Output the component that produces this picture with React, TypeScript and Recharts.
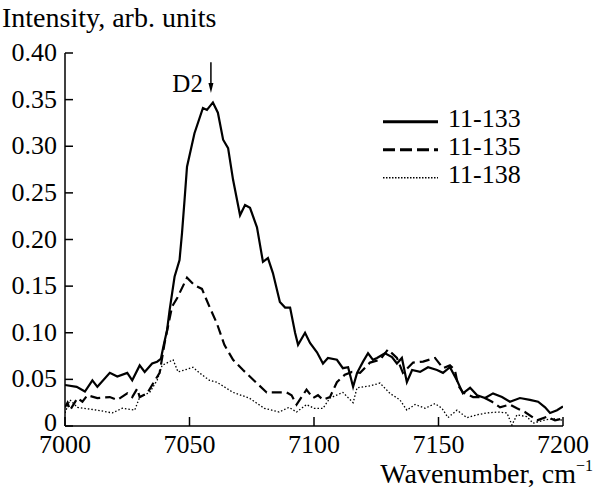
import { LineChart, Line, XAxis, YAxis, ReferenceLine } from "recharts";

// spectra: [wavenumber, intensity]
const s133: [number, number][] = [
  [7000, 0.044], [7004.7, 0.042], [7008, 0.037], [7011, 0.049], [7013, 0.042],
  [7018, 0.057], [7021, 0.053], [7025, 0.057], [7027, 0.049], [7030, 0.065],
  [7032, 0.058], [7035, 0.067], [7037, 0.069], [7038.5, 0.072], [7039.5, 0.085],
  [7041, 0.103], [7042, 0.124], [7044, 0.16], [7046, 0.178], [7047, 0.207],
  [7048, 0.242], [7049, 0.278], [7052, 0.314], [7055.4, 0.341], [7057, 0.339],
  [7059.4, 0.347], [7061.4, 0.336], [7063.5, 0.307], [7065.5, 0.298], [7067.5, 0.264],
  [7070.3, 0.226], [7072.3, 0.237], [7074.3, 0.234], [7077.1, 0.213], [7079.5, 0.176],
  [7081.5, 0.18], [7083.5, 0.164], [7086.3, 0.133], [7088.4, 0.127], [7090.4, 0.127],
  [7092.4, 0.1], [7093.6, 0.087], [7096.4, 0.1], [7098.4, 0.089], [7101.2, 0.079],
  [7103.6, 0.067], [7105.6, 0.073], [7109.2, 0.071], [7111.6, 0.062], [7113.7, 0.063],
  [7115.7, 0.042], [7117.3, 0.057], [7119.7, 0.069], [7121.7, 0.078], [7123.7, 0.071],
  [7125.3, 0.073], [7128.5, 0.078], [7131.3, 0.074], [7133.3, 0.067], [7135.3, 0.073],
  [7137.3, 0.047], [7139.4, 0.06], [7142.6, 0.058], [7145.8, 0.063], [7149.4, 0.06],
  [7151.8, 0.057], [7154.6, 0.063], [7157.4, 0.049], [7159.8, 0.035], [7162.7, 0.041],
  [7165.5, 0.033], [7168.7, 0.03], [7171.9, 0.035], [7175.5, 0.031], [7178.7, 0.026],
  [7182.7, 0.03], [7186.7, 0.028], [7190, 0.026], [7192.8, 0.02], [7194.8, 0.014],
  [7197.6, 0.017], [7200, 0.021],
];

const s135: [number, number][] = [
  [7000, 0.02], [7001, 0.025], [7002, 0.017], [7005, 0.03], [7007, 0.026],
  [7009, 0.033], [7013, 0.03], [7018, 0.031], [7021, 0.028], [7025, 0.035],
  [7027, 0.031], [7029, 0.04], [7030, 0.031], [7033, 0.035], [7035, 0.044],
  [7038, 0.057], [7040, 0.089], [7043, 0.128], [7045, 0.137], [7049, 0.159],
  [7052, 0.151], [7055, 0.147], [7058, 0.128], [7061, 0.11], [7064, 0.087],
  [7067.5, 0.071], [7071.5, 0.06], [7077, 0.046], [7081, 0.036], [7085, 0.036],
  [7089, 0.036], [7091, 0.033], [7093, 0.023], [7097, 0.039], [7099.6, 0.03],
  [7101.6, 0.033], [7103.6, 0.028], [7106.4, 0.031], [7109.2, 0.047], [7112.4, 0.055],
  [7115.3, 0.058], [7118.5, 0.057], [7122.5, 0.068], [7126.5, 0.071], [7129.7, 0.082],
  [7133.3, 0.073], [7135.7, 0.057], [7139.8, 0.068], [7143.8, 0.069], [7148.6, 0.073],
  [7151.8, 0.062], [7154.6, 0.065], [7156.6, 0.06], [7157.8, 0.044], [7159.8, 0.036],
  [7163.9, 0.031], [7167.9, 0.031], [7171.5, 0.026], [7174.7, 0.02], [7178.7, 0.023],
  [7181.5, 0.019], [7184.7, 0.015], [7189.6, 0.006], [7193.6, 0.01], [7196.8, 0.006],
  [7200, 0.008],
];

const s138: [number, number][] = [
  [7000, 0.014], [7002, 0.028], [7005, 0.02], [7013, 0.017], [7019, 0.014],
  [7023, 0.019], [7028, 0.017], [7030, 0.031], [7034, 0.036], [7037, 0.049],
  [7039, 0.065], [7043.4, 0.071], [7045.4, 0.058], [7048, 0.06], [7051.4, 0.063],
  [7054, 0.057], [7058, 0.049], [7061, 0.047], [7067.5, 0.036], [7074, 0.03],
  [7080, 0.019], [7086, 0.015], [7090, 0.02], [7093, 0.015], [7097, 0.023],
  [7100, 0.019], [7103.6, 0.019], [7106.4, 0.03], [7111.6, 0.036], [7115.7, 0.025],
  [7117.3, 0.041], [7122.5, 0.043], [7126.5, 0.046], [7130.5, 0.035], [7134.5, 0.028],
  [7137.3, 0.017], [7140.6, 0.023], [7144.6, 0.019], [7148.6, 0.024], [7151.4, 0.019],
  [7153.8, 0.009], [7157.4, 0.017], [7161.4, 0.009], [7165.5, 0.012], [7169.5, 0.014],
  [7173.9, 0.015], [7177.5, 0.014], [7179.5, 0.001], [7181.5, 0.012], [7185.5, 0.01],
  [7188, 0.003], [7192, 0.006], [7196, 0.008], [7200, 0.006],
];

const xTicks = [7000, 7050, 7100, 7150, 7200];
const yTicks = [0, 0.05, 0.1, 0.15, 0.2, 0.25, 0.3, 0.35, 0.4];

const txt = { fontFamily: "'Liberation Serif', 'DejaVu Serif', serif" };

const toPoints = (s: [number, number][]) => s.map(([x, y]) => ({ x, y }));

function YTick({ x, y, payload }: any) {
  const v = payload.value as number;
  // the "0" label sits a little higher so it clears the x labels
  const dy = v === 0 ? 5 : 8;
  return (
    <g>
      <line x1={x} x2={x + 8} y1={y} y2={y} stroke="#000" strokeWidth={1.5} />
      <text x={x - 8} y={y + dy} textAnchor="end" fontSize={26} style={txt} fill="#000">
        {v === 0 ? "0" : v.toFixed(2)}
      </text>
    </g>
  );
}

function XTick({ x, y, payload }: any) {
  return (
    <g>
      <line x1={x} x2={x} y1={y} y2={y - 9} stroke="#000" strokeWidth={1.5} />
      <text x={x} y={y + 27} textAnchor="middle" fontSize={26} style={txt} fill="#000">
        {payload.value}
      </text>
    </g>
  );
}

// down arrow marking the D2 peak
function ArrowShape(props: any) {
  const { x1, y1, x2, y2 } = props;
  const top = Math.min(y1, y2);
  const tip = Math.max(y1, y2);
  return (
    <g>
      <line x1={x1} x2={x1} y1={top} y2={tip - 8} stroke="#000" strokeWidth={1.5} />
      <path d={`M${x1 - 2.5},${tip - 10} L${x1 + 2.5},${tip - 10} L${x1},${tip} Z`} fill="#000" />
      <text x={x1 - 8} y={tip - 1} textAnchor="end" fontSize={25} style={txt} fill="#000">
        D2
      </text>
    </g>
  );
}

const legendItems = [
  { name: "11-133", dash: undefined, width: 3 },
  { name: "11-135", dash: "12 5", width: 3 },
  { name: "11-138", dash: "1.5 1.5", width: 1.5 },
];

export default function App() {
  return (
    <div style={{ position: "absolute", left: 0, top: 0, width: 598, height: 489, background: "#fff" }}>
      <LineChart width={598} height={489} margin={{ top: 53, right: 35, bottom: 0, left: 0 }}>
        <XAxis
          dataKey="x"
          type="number"
          domain={[7000, 7200]}
          ticks={xTicks}
          tick={<XTick />}
          tickLine={false}
          tickSize={0}
          tickMargin={0}
          height={63}
          axisLine={{ stroke: "#000", strokeWidth: 1.5 }}
          allowDataOverflow
        />
        <YAxis
          type="number"
          domain={[0, 0.4]}
          ticks={yTicks}
          tick={<YTick />}
          tickLine={false}
          tickSize={0}
          tickMargin={0}
          width={65}
          axisLine={{ stroke: "#000", strokeWidth: 1.5 }}
          allowDataOverflow
        />
        <Line
          data={toPoints(s138)}
          dataKey="y"
          type="linear"
          stroke="#000"
          strokeWidth={1.3}
          strokeDasharray="1.5 2"
          dot={false}
          isAnimationActive={false}
        />
        <Line
          data={toPoints(s135)}
          dataKey="y"
          type="linear"
          stroke="#000"
          strokeWidth={2.2}
          strokeDasharray="10 5"
          dot={false}
          isAnimationActive={false}
        />
        <Line
          data={toPoints(s133)}
          dataKey="y"
          type="linear"
          stroke="#000"
          strokeWidth={2.2}
          dot={false}
          isAnimationActive={false}
        />
        <ReferenceLine
          segment={[{ x: 7058.6, y: 0.39 }, { x: 7058.6, y: 0.357 }]}
          shape={<ArrowShape />}
        />
      </LineChart>

      <svg
        width={598}
        height={489}
        style={{ position: "absolute", left: 0, top: 0, pointerEvents: "none" }}
      >
        <text x={2} y={27} fontSize={28} style={txt} fill="#000">
          Intensity, arb. units
        </text>
        <text x={593} y={483} textAnchor="end" fontSize={28} style={txt} fill="#000">
          Wavenumber, cm
          <tspan dy={-12} fontSize={16}>−1</tspan>
        </text>
        {legendItems.map((it, i) => {
          const ly = 121.7 + i * 28;
          return (
            <g key={it.name}>
              <line
                x1={383}
                x2={438}
                y1={ly}
                y2={ly}
                stroke="#000"
                strokeWidth={it.width}
                strokeDasharray={it.dash}
              />
              <text x={448} y={ly + 5.5} fontSize={26} style={txt} fill="#000">
                {it.name}
              </text>
            </g>
          );
        })}
      </svg>
    </div>
  );
}
